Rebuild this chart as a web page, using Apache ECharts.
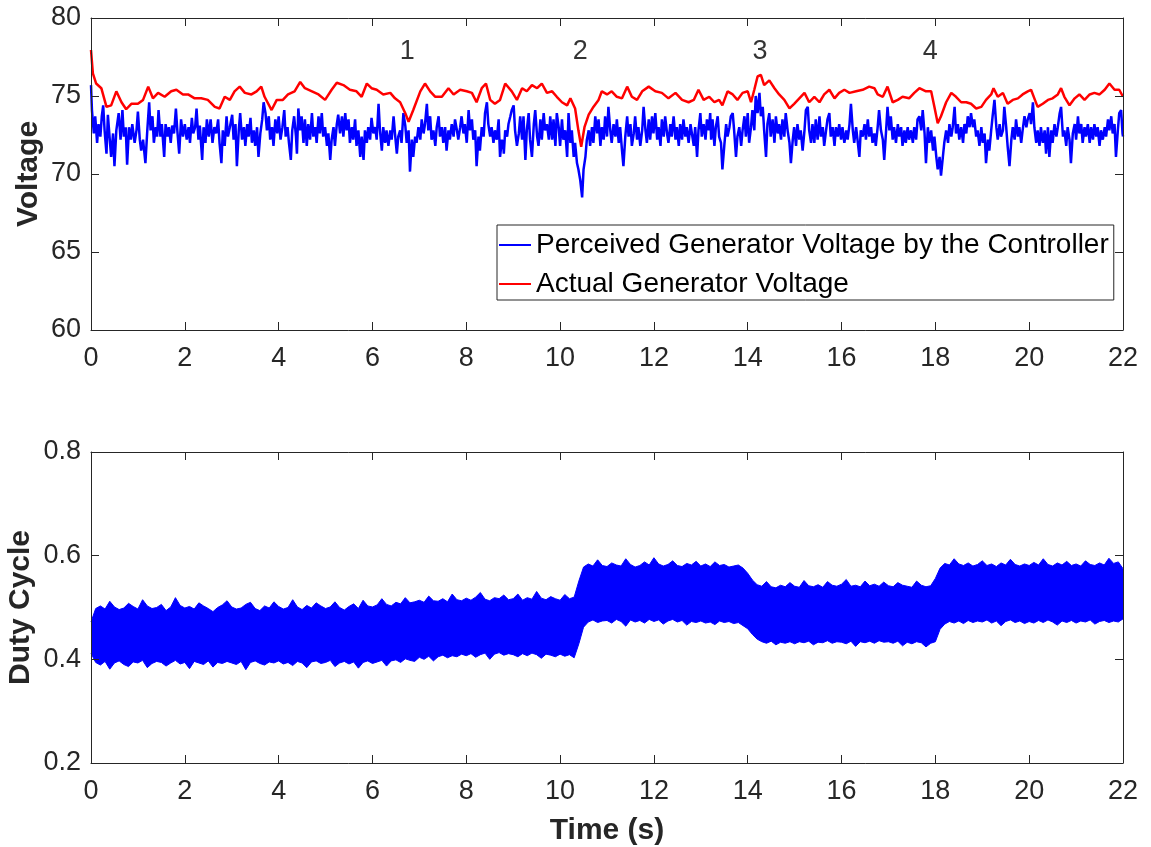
<!DOCTYPE html>
<html><head><meta charset="utf-8">
<script src="https://cdn.jsdelivr.net/npm/echarts@6/dist/echarts.min.js"></script>
<style>html,body{margin:0;padding:0;background:#fff}#c{width:1151px;height:847px}</style>
</head><body><div id="c"></div>
<script>
// ---------- DATA ----------
const perceivedName = 'Perceived Generator Voltage by the Controller';
const actualName = 'Actual Generator Voltage';

// [time (s), voltage]
const perceivedVoltage = [
[0,75.7],[0.02,74.1],[0.06,72.6],[0.09,73.7],[0.13,72.0],[0.16,73.2],[0.2,72.4],[0.23,73.7],[0.26,74.4],[0.29,72.8],[0.33,71.3],[0.36,73.8],[0.4,72.2],[0.43,71.1],[0.47,72.6],[0.5,70.5],[0.54,72.8],[0.59,73.9],[0.63,72.2],[0.67,74.1],[0.7,72.4],[0.74,73.0],[0.77,70.6],[0.81,73.0],[0.85,72.2],[0.88,73.2],[0.93,72.0],[0.97,72.8],[1.0,74.0],[1.04,72.2],[1.07,71.5],[1.11,72.2],[1.16,70.7],[1.2,72.8],[1.24,74.6],[1.27,72.8],[1.31,73.7],[1.34,72.0],[1.38,73.0],[1.41,72.4],[1.44,74.1],[1.48,72.4],[1.51,73.2],[1.56,71.1],[1.59,73.2],[1.63,72.4],[1.66,73.0],[1.7,72.0],[1.73,73.1],[1.77,72.6],[1.81,74.2],[1.84,72.8],[1.88,71.3],[1.92,73.5],[1.96,72.4],[2.0,73.2],[2.04,72.2],[2.08,73.0],[2.11,72.0],[2.15,73.6],[2.18,72.6],[2.22,73.0],[2.25,74.2],[2.29,72.2],[2.32,73.1],[2.37,70.9],[2.4,73.0],[2.44,72.0],[2.47,73.5],[2.51,72.4],[2.55,73.5],[2.59,72.0],[2.63,73.0],[2.67,72.6],[2.71,73.5],[2.74,72.0],[2.78,70.7],[2.81,72.8],[2.85,71.8],[2.89,73.7],[2.92,72.4],[2.96,73.0],[3.01,73.8],[3.04,72.2],[3.08,73.2],[3.11,70.5],[3.15,72.8],[3.18,73.9],[3.22,72.2],[3.26,73.0],[3.29,71.8],[3.33,73.2],[3.36,72.4],[3.4,73.6],[3.43,72.0],[3.47,72.8],[3.5,71.8],[3.54,73.0],[3.57,71.1],[3.61,72.6],[3.65,73.5],[3.68,74.6],[3.72,73.9],[3.75,72.8],[3.79,73.7],[3.82,72.2],[3.86,73.0],[3.89,71.8],[3.93,73.5],[3.97,72.6],[4.0,73.7],[4.04,72.2],[4.08,73.0],[4.12,74.1],[4.15,72.4],[4.19,73.0],[4.22,72.0],[4.26,70.9],[4.29,72.8],[4.33,73.7],[4.37,72.4],
[4.39,71.3],[4.42,74.2],[4.46,72.8],[4.49,73.7],[4.53,72.0],[4.56,73.5],[4.6,71.8],[4.63,73.2],[4.67,72.2],[4.71,73.9],[4.74,72.4],[4.78,73.0],[4.81,72.0],[4.85,73.7],[4.88,72.6],[4.92,73.9],[4.95,72.4],[4.99,73.0],[5.03,71.8],[5.06,72.6],[5.1,70.9],[5.13,72.2],[5.17,73.0],[5.2,71.8],[5.24,73.2],[5.27,73.8],[5.31,72.6],[5.35,73.7],[5.38,72.4],[5.42,73.9],[5.45,72.8],[5.49,73.5],[5.52,72.0],[5.56,73.0],[5.59,72.2],[5.63,73.5],[5.66,71.8],[5.7,72.8],[5.74,71.1],[5.77,72.4],[5.81,70.9],[5.84,72.8],[5.88,72.0],[5.91,73.0],[5.95,72.2],[5.98,73.6],[6.02,72.6],[6.06,73.0],[6.09,72.2],[6.13,74.5],[6.16,72.8],[6.2,71.5],[6.23,73.0],[6.27,72.0],[6.3,72.8],[6.34,71.8],[6.38,72.8],[6.41,72.2],[6.45,73.7],[6.48,72.6],[6.52,71.3],[6.55,72.4],[6.59,72.8],[6.62,72.0],[6.66,73.9],[6.7,73.1],[6.73,72.0],[6.77,72.8],[6.8,70.15],[6.84,72.2],[6.87,71.1],[6.91,72.4],[6.94,72.0],[6.98,73.0],[7.02,72.2],[7.05,73.5],[7.09,72.6],[7.12,73.2],[7.16,74.5],[7.19,72.8],[7.23,73.7],[7.26,72.2],[7.3,72.8],[7.34,71.8],[7.37,73.0],[7.41,73.7],[7.44,72.4],[7.48,73.0],[7.51,72.0],[7.55,73.0],[7.58,71.5],[7.62,72.8],[7.65,72.2],[7.69,73.2],[7.73,72.4],[7.76,73.5],[7.8,72.8],[7.83,72.2],[7.87,73.0],[7.9,73.7],[7.94,72.6],[7.97,73.2],[8.01,72.0],[8.05,74.1],[8.08,72.8],[8.12,73.5],[8.15,72.2],[8.19,72.8],[8.22,70.5],[8.26,72.4],[8.29,71.5],[8.33,73.0],[8.37,72.4],[8.4,73.9],[8.44,74.6],[8.47,73.2],[8.51,72.4],[8.54,73.0],[8.58,72.0],[8.61,72.8],[8.65,72.2],[8.69,73.5],[8.72,71.1],[8.76,72.2],[8.79,71.8],
[8.8,71.3],[8.83,72.8],[8.87,72.4],[8.9,73.2],[8.94,73.7],[8.97,74.1],[9.01,74.4],[9.04,72.8],[9.08,71.8],[9.12,72.6],[9.15,73.7],[9.19,72.2],[9.22,73.7],[9.26,70.9],[9.29,72.8],[9.33,73.9],[9.36,72.2],[9.4,71.1],[9.44,73.2],[9.47,74.1],[9.51,72.4],[9.54,71.8],[9.58,73.5],[9.61,72.2],[9.65,73.9],[9.68,72.8],[9.72,73.2],[9.76,72.2],[9.79,73.7],[9.83,72.2],[9.86,73.5],[9.9,71.8],[9.93,73.9],[9.97,73.0],[10.0,71.8],[10.04,73.5],[10.07,72.2],[10.11,72.8],[10.15,71.1],[10.18,73.9],[10.22,72.0],[10.25,72.8],[10.29,71.1],[10.32,72.0],[10.36,70.7],[10.39,70.3],[10.43,69.6],[10.47,68.5],[10.5,70.3],[10.54,71.1],[10.57,72.2],[10.61,72.8],[10.64,71.8],[10.68,73.0],[10.71,72.0],[10.75,73.7],[10.79,72.6],[10.82,73.5],[10.86,71.8],[10.89,73.0],[10.93,72.2],[10.96,73.7],[11.0,72.4],[11.03,74.3],[11.07,72.8],[11.1,72.0],[11.14,73.2],[11.18,72.4],[11.21,73.5],[11.25,72.0],[11.28,73.0],[11.32,71.5],[11.35,70.5],[11.39,72.4],[11.43,73.7],[11.46,72.4],[11.5,73.2],[11.53,71.8],[11.57,72.6],[11.6,73.7],[11.64,72.2],[11.67,73.0],[11.71,71.8],[11.75,72.8],[11.78,74.3],[11.82,72.8],[11.85,72.0],[11.89,73.5],[11.92,72.2],[11.96,73.7],[11.99,72.6],[12.03,73.9],[12.07,72.2],[12.1,73.0],[12.14,71.8],[12.17,73.5],[12.21,72.4],[12.24,73.7],[12.28,72.6],[12.31,72.0],[12.35,73.2],[12.38,72.4],[12.42,73.7],[12.46,72.2],[12.49,73.0],[12.53,71.8],[12.56,73.2],[12.6,72.2],[12.63,73.5],[12.67,72.4],[12.7,73.0],[12.74,72.0],[12.78,73.2],[12.81,72.6],[12.85,71.8],[12.88,73.0],[12.92,71.1],[12.95,72.8],[12.99,73.9],[13.02,72.4],[13.06,73.2],[13.1,72.2],[13.13,73.5],[13.17,72.8],[13.2,73.9],
[13.22,72.2],[13.25,73.5],[13.29,71.8],[13.32,73.0],[13.36,73.7],[13.39,72.4],[13.43,72.0],[13.46,70.3],[13.5,71.8],[13.54,73.2],[13.57,72.4],[13.61,73.0],[13.64,73.7],[13.68,73.9],[13.71,72.8],[13.75,71.1],[13.78,72.4],[13.82,73.0],[13.86,71.8],[13.89,72.8],[13.93,73.7],[13.96,72.4],[14.0,73.9],[14.03,72.0],[14.07,73.0],[14.1,74.1],[14.14,72.8],[14.17,75.0],[14.21,73.9],[14.25,75.2],[14.28,73.7],[14.32,74.3],[14.35,72.8],[14.39,71.1],[14.42,73.2],[14.46,73.9],[14.49,72.4],[14.53,73.5],[14.57,72.0],[14.6,73.7],[14.64,72.6],[14.67,73.2],[14.71,72.2],[14.74,73.5],[14.78,72.4],[14.81,73.9],[14.85,72.8],[14.89,72.0],[14.92,70.7],[14.96,72.2],[14.99,73.0],[15.03,71.8],[15.06,73.2],[15.1,72.2],[15.13,72.8],[15.17,71.5],[15.21,72.8],[15.24,74.1],[15.28,74.3],[15.31,72.8],[15.35,72.0],[15.38,73.2],[15.42,72.0],[15.45,73.5],[15.49,72.2],[15.53,73.7],[15.56,72.4],[15.6,73.0],[15.63,71.8],[15.67,72.8],[15.7,73.5],[15.74,73.9],[15.77,72.4],[15.81,73.0],[15.85,71.8],[15.88,73.0],[15.92,72.4],[15.95,73.2],[15.99,72.2],[16.02,73.0],[16.06,72.0],[16.1,72.8],[16.13,72.2],[16.17,73.2],[16.2,74.5],[16.24,72.8],[16.27,72.0],[16.31,73.0],[16.34,72.2],[16.38,71.1],[16.41,72.8],[16.45,72.4],[16.49,73.2],[16.52,72.2],[16.56,73.5],[16.59,72.4],[16.63,73.0],[16.66,72.0],[16.7,72.6],[16.73,71.8],[16.77,73.0],[16.8,74.1],[16.84,72.8],[16.88,72.2],[16.91,70.9],[16.95,72.8],[16.98,74.3],[17.02,72.8],[17.05,73.7],[17.09,72.2],[17.12,73.0],[17.16,72.0],[17.2,73.2],[17.23,72.4],[17.27,73.0],[17.3,71.8],[17.34,72.8],[17.37,72.0],[17.41,73.0],[17.44,72.2],[17.48,72.8],[17.52,72.0],[17.55,73.0],[17.59,72.2],[17.62,73.5],
[17.66,73.7],[17.7,72.8],[17.73,74.1],[17.77,72.6],[17.8,70.7],[17.84,73.0],[17.87,72.0],[17.91,72.8],[17.95,71.5],[17.98,72.4],[18.02,71.1],[18.05,70.3],[18.09,71.1],[18.12,69.9],[18.16,71.1],[18.19,72.0],[18.23,72.8],[18.27,72.0],[18.3,73.2],[18.34,72.4],[18.37,73.0],[18.41,74.3],[18.44,72.6],[18.48,73.2],[18.51,72.2],[18.55,73.0],[18.59,72.0],[18.62,73.2],[18.66,72.6],[18.69,73.7],[18.73,73.0],[18.76,73.9],[18.8,73.0],[18.83,73.5],[18.87,72.4],[18.9,72.8],[18.94,71.8],[18.98,73.0],[19.01,72.0],[19.05,72.6],[19.08,70.7],[19.12,72.2],[19.15,71.5],[19.19,72.8],[19.22,73.7],[19.26,74.75],[19.3,73.0],[19.33,72.2],[19.37,73.2],[19.4,72.4],[19.44,72.8],[19.47,74.3],[19.51,73.0],[19.54,71.8],[19.58,70.5],[19.62,72.2],[19.65,73.0],[19.69,72.2],[19.72,73.5],[19.76,72.4],[19.79,73.0],[19.83,72.0],[19.86,72.8],[19.9,73.7],[19.94,73.0],[19.97,73.5],[20.01,73.9],[20.04,73.2],[20.08,74.6],[20.11,73.0],[20.15,72.0],[20.18,72.8],[20.22,71.8],[20.25,73.0],[20.29,72.0],[20.33,72.8],[20.36,71.3],[20.4,73.0],[20.43,71.1],[20.47,72.8],[20.5,72.0],[20.54,73.2],[20.58,72.4],[20.61,73.0],[20.65,73.9],[20.68,74.3],[20.72,72.4],[20.75,72.8],[20.79,71.8],[20.82,73.0],[20.86,72.2],[20.89,70.7],[20.93,72.6],[20.97,73.2],[21.0,72.2],[21.04,73.7],[21.07,72.6],[21.11,73.2],[21.14,72.0],[21.18,73.0],[21.21,72.4],[21.25,73.2],[21.29,72.0],[21.32,73.0],[21.36,72.2],[21.39,73.2],[21.43,72.4],[21.46,73.0],[21.5,71.8],[21.53,72.8],[21.57,72.2],[21.61,73.0],[21.64,72.4],[21.68,73.5],[21.71,72.8],[21.75,73.7],[21.78,72.6],[21.82,73.2],[21.85,71.1],[21.89,72.8],[21.92,73.9],[21.96,74.1],[21.99,72.6],[22.0,72.4]
];

// [time (s), voltage]
const actualVoltage = [
[0,77.95],[0.04,76.45],[0.11,75.8],[0.22,75.5],[0.33,74.3],[0.43,74.4],[0.54,75.3],[0.65,74.6],[0.75,74.15],[0.86,74.5],[1.0,74.5],[1.11,74.75],[1.22,75.6],[1.32,74.85],[1.43,75.2],[1.57,74.95],[1.71,75.3],[1.82,75.4],[1.96,75.1],[2.07,75.1],[2.21,74.85],[2.35,74.85],[2.49,74.75],[2.64,74.3],[2.74,74.2],[2.85,74.95],[2.96,74.75],[3.06,75.3],[3.17,75.6],[3.28,75.2],[3.42,75.1],[3.53,75.3],[3.63,75.6],[3.7,74.95],[3.85,74.1],[3.96,74.75],[4.09,74.75],[4.2,75.1],[4.34,75.3],[4.46,75.9],[4.56,75.5],[4.71,75.3],[4.85,75.1],[4.99,74.75],[5.13,75.4],[5.24,75.85],[5.38,75.7],[5.52,75.4],[5.66,75.3],[5.77,74.95],[5.88,75.8],[5.98,75.5],[6.09,75.4],[6.23,75.1],[6.38,75.2],[6.48,74.85],[6.59,74.6],[6.7,73.9],[6.77,73.35],[6.87,74.1],[7.02,75.3],[7.12,75.8],[7.23,75.3],[7.34,74.95],[7.48,74.95],[7.62,75.5],[7.73,75.1],[7.87,75.4],[8.01,75.3],[8.12,75.2],[8.22,74.6],[8.33,75.5],[8.42,75.8],[8.51,74.75],[8.61,74.5],[8.72,74.75],[8.83,75.8],[8.97,75.3],[9.08,74.75],[9.19,75.5],[9.29,75.3],[9.4,75.7],[9.51,75.5],[9.61,75.8],[9.72,75.2],[9.83,75.3],[9.93,74.95],[10.04,74.6],[10.15,74.4],[10.22,74.85],[10.32,74.2],[10.39,72.8],[10.45,71.75],[10.52,73.0],[10.61,73.8],[10.71,74.3],[10.82,74.75],[10.89,75.3],[11.0,75.1],[11.1,75.3],[11.21,74.95],[11.32,74.85],[11.43,75.6],[11.53,74.95],[11.64,74.75],[11.75,75.3],[11.89,75.6],[12.03,75.3],[12.17,75.2],[12.31,74.85],[12.46,75.2],[12.6,74.75],[12.74,74.6],[12.85,74.75],[12.95,75.4],[13.06,74.75],[13.18,74.95],[13.29,74.6],[13.39,74.75],[13.46,74.4],[13.57,75.3],[13.68,75.1],[13.78,74.75],[13.89,75.2],[14.0,75.3],[14.07,74.6],[14.14,75.4],[14.21,76.25],[14.28,76.35],[14.35,75.7],[14.46,76.0],[14.57,75.5],[14.67,75.1],[14.78,74.75],[14.89,74.2],[14.99,74.5],[15.1,74.85],[15.21,75.2],[15.31,74.6],[15.42,74.95],[15.53,74.6],[15.63,75.1],[15.74,75.4],[15.85,74.85],[15.95,75.2],[16.06,75.4],[16.17,75.2],[16.31,75.3],[16.45,75.4],[16.59,75.6],[16.7,75.5],[16.77,75.1],[16.88,74.95],[16.98,75.6],[17.09,74.6],[17.2,74.75],[17.3,74.95],[17.44,74.85],[17.55,75.2],[17.66,75.5],[17.8,75.3],[17.91,75.3],[17.98,74.3],[18.05,73.25],[18.12,73.7],[18.23,74.6],[18.34,75.2],[18.44,74.95],[18.55,74.6],[18.66,74.6],[18.76,74.5],[18.87,74.2],[18.98,74.3],[19.08,74.75],[19.19,75.1],[19.24,75.5],[19.33,74.95],[19.44,75.2],[19.54,74.5],[19.65,74.75],[19.76,74.85],[19.86,75.1],[19.97,75.3],[20.04,75.4],[20.11,74.85],[20.18,74.3],[20.29,74.5],[20.4,74.75],[20.5,74.85],[20.61,75.1],[20.68,75.5],[20.75,74.95],[20.86,74.4],[20.97,74.85],[21.07,75.1],[21.18,74.75],[21.29,75.1],[21.39,75.2],[21.5,75.1],[21.61,75.4],[21.71,75.8],[21.82,75.4],[21.92,75.4],[22.0,74.95]
];

// event annotations
const eventLabels = ['1', '2', '3', '4'];
const eventTimes = [6.74, 10.43, 14.26, 17.89];
const eventLabelY = 77.85;

// duty cycle: sampled every 0.1 s from 0 to 22 s, upper / lower edge of the oscillation band
const dutyStart = 0, dutyStep = 0.1;
const dutyUpper = [
0.472,0.498,0.503,0.497,0.512,0.501,0.496,0.499,0.508,0.502,
0.497,0.515,0.503,0.498,0.500,0.506,0.494,0.501,0.519,0.504,
0.499,0.502,0.497,0.509,0.503,0.498,0.492,0.500,0.505,0.513,
0.501,0.497,0.499,0.506,0.510,0.498,0.494,0.503,0.499,0.511,
0.502,0.497,0.500,0.515,0.501,0.496,0.504,0.499,0.509,0.503,
0.498,0.501,0.511,0.500,0.495,0.502,0.507,0.498,0.514,0.503,
0.501,0.505,0.517,0.506,0.503,0.510,0.507,0.519,0.509,0.511,
0.514,0.510,0.522,0.513,0.512,0.517,0.511,0.526,0.515,0.513,
0.518,0.514,0.520,0.529,0.516,0.513,0.519,0.517,0.524,0.515,
0.517,0.526,0.514,0.519,0.516,0.531,0.518,0.515,0.521,0.517,
0.514,0.525,0.517,0.520,0.551,0.578,0.584,0.580,0.592,0.581,
0.579,0.586,0.582,0.580,0.594,0.583,0.578,0.581,0.588,0.582,
0.596,0.584,0.580,0.583,0.590,0.581,0.579,0.585,0.582,0.589,
0.580,0.584,0.579,0.588,0.581,0.583,0.578,0.580,0.582,0.576,
0.566,0.553,0.544,0.541,0.550,0.540,0.538,0.543,0.540,0.548,
0.541,0.539,0.552,0.542,0.540,0.544,0.539,0.550,0.543,0.541,
0.545,0.554,0.541,0.543,0.540,0.551,0.542,0.545,0.541,0.549,
0.542,0.540,0.548,0.543,0.541,0.539,0.551,0.543,0.540,0.542,
0.556,0.576,0.585,0.582,0.594,0.584,0.581,0.586,0.580,0.583,
0.590,0.581,0.584,0.579,0.586,0.582,0.593,0.583,0.580,0.584,
0.581,0.587,0.582,0.594,0.583,0.580,0.586,0.582,0.589,0.581,
0.584,0.580,0.590,0.583,0.581,0.586,0.582,0.595,0.585,0.588,
0.575
];
const dutyLower = [
0.412,0.394,0.389,0.396,0.381,0.393,0.397,0.390,0.386,0.395,
0.393,0.398,0.384,0.392,0.396,0.394,0.387,0.393,0.398,0.391,
0.394,0.382,0.396,0.393,0.390,0.397,0.385,0.394,0.392,0.396,
0.393,0.390,0.396,0.380,0.394,0.397,0.392,0.389,0.395,0.393,
0.397,0.391,0.394,0.388,0.396,0.393,0.384,0.395,0.397,0.392,
0.394,0.398,0.386,0.393,0.396,0.391,0.395,0.383,0.394,0.397,
0.392,0.395,0.398,0.387,0.397,0.399,0.394,0.401,0.398,0.396,
0.404,0.400,0.406,0.397,0.405,0.408,0.403,0.407,0.405,0.410,
0.407,0.411,0.404,0.409,0.412,0.400,0.410,0.413,0.408,0.411,
0.409,0.405,0.411,0.407,0.412,0.409,0.402,0.410,0.408,0.405,
0.410,0.406,0.409,0.403,0.430,0.462,0.472,0.476,0.471,0.474,
0.475,0.470,0.477,0.473,0.464,0.476,0.472,0.475,0.470,0.477,
0.473,0.476,0.468,0.474,0.477,0.472,0.475,0.466,0.473,0.471,
0.474,0.470,0.472,0.467,0.474,0.471,0.473,0.469,0.471,0.465,
0.459,0.448,0.439,0.434,0.431,0.435,0.428,0.433,0.431,0.434,
0.430,0.434,0.432,0.435,0.428,0.433,0.432,0.436,0.431,0.434,
0.433,0.430,0.435,0.425,0.434,0.432,0.435,0.431,0.436,0.433,
0.434,0.431,0.435,0.426,0.433,0.430,0.434,0.432,0.424,0.431,
0.434,0.458,0.468,0.473,0.470,0.474,0.469,0.475,0.471,0.474,
0.472,0.476,0.470,0.474,0.465,0.473,0.476,0.471,0.474,0.469,
0.473,0.470,0.475,0.471,0.476,0.472,0.466,0.474,0.471,0.475,
0.470,0.474,0.472,0.476,0.468,0.473,0.475,0.471,0.474,0.472,
0.478
];

// ---------- CHART ----------
const FONT = '"Liberation Sans", Arial, Helvetica, sans-serif';
const AX = '#262626';
const BLUE = '#0000FF', RED = '#FF0000';

const dutyTime = i => +(dutyStart + i * dutyStep).toFixed(2);
const dutyUpperPts = dutyUpper.map((v, i) => [dutyTime(i), v]);
const dutyLowerPts = dutyLower.map((v, i) => [dutyTime(i), v]);
const eventPts = eventTimes.map((t, i) => ({ value: [t, eventLabelY], name: eventLabels[i] }));

function xAxis(grid, pos, labels, name) {
  return {
    type: 'value', gridIndex: grid, position: pos, min: 0, max: 22, interval: 2, z: 10,
    name: name || '', nameLocation: 'middle', nameGap: 53, nameMoveOverlap: false,
    nameTextStyle: { fontFamily: FONT, fontSize: 30, fontWeight: 'bold', color: AX },
    axisLine: { show: true, onZero: false, lineStyle: { color: AX, width: 1 } },
    axisTick: { show: true, inside: true, length: 8, lineStyle: { color: AX } },
    axisLabel: { show: labels, color: AX, fontFamily: FONT, fontSize: 27, margin: 15 },
    splitLine: { show: false }
  };
}
function yAxis(grid, pos, labels, min, max, interval, name, gap, dec) {
  return {
    type: 'value', gridIndex: grid, position: pos, min: min, max: max, interval: interval, z: 10,
    name: name || '', nameLocation: 'middle', nameGap: gap || 0, nameMoveOverlap: false,
    nameTextStyle: { fontFamily: FONT, fontSize: 30, fontWeight: 'bold', color: AX },
    axisLine: { show: true, onZero: false, lineStyle: { color: AX, width: 1 } },
    axisTick: { show: true, inside: true, length: 8, lineStyle: { color: AX } },
    axisLabel: { show: labels, color: AX, fontFamily: FONT, fontSize: 27, margin: 10,
      formatter: v => dec ? v.toFixed(dec) : String(v) },
    splitLine: { show: false }
  };
}

const chart = echarts.init(document.getElementById('c'), null, { renderer: 'canvas' });
chart.setOption({
  animation: false,
  backgroundColor: '#fff',
  grid: [
    { left: 91, top: 18, width: 1032, height: 312, outerBoundsMode: 'none', containLabel: false },
    { left: 91, top: 452, width: 1032, height: 311, outerBoundsMode: 'none', containLabel: false }
  ],
  xAxis: [
    xAxis(0, 'bottom', true),
    xAxis(0, 'top', false),
    xAxis(1, 'bottom', true, 'Time (s)'),
    xAxis(1, 'top', false)
  ],
  yAxis: [
    yAxis(0, 'left', true, 60, 80, 5, 'Voltage', 47, 0),
    yAxis(0, 'right', false, 60, 80, 5),
    yAxis(1, 'left', true, 0.2, 0.8, 0.2, 'Duty Cycle', 55, 1),
    yAxis(1, 'right', false, 0.2, 0.8, 0.2)
  ],
  legend: {
    left: 497, top: 225, orient: 'vertical',
    data: [perceivedName, actualName],
    icon: 'rect', itemWidth: 32, itemHeight: 2, itemGap: 9,
    padding: [5, 5, 1, 2],
    borderColor: AX, borderWidth: 1, backgroundColor: '#fff',
    textStyle: { fontFamily: FONT, fontSize: 28, color: '#000', lineHeight: 30 }
  },
  series: [
    { name: perceivedName, type: 'line', xAxisIndex: 0, yAxisIndex: 0, data: perceivedVoltage,
      showSymbol: false, color: BLUE, lineStyle: { color: BLUE, width: 2.5 }, z: 2 },
    { name: actualName, type: 'line', xAxisIndex: 0, yAxisIndex: 0, data: actualVoltage,
      showSymbol: false, color: RED, lineStyle: { color: RED, width: 2.5 }, z: 3 },
    { name: 'events', type: 'scatter', xAxisIndex: 0, yAxisIndex: 0, data: eventPts,
      symbolSize: 0, silent: true,
      label: { show: true, position: 'inside', formatter: p => p.name,
        fontFamily: FONT, fontSize: 27, color: '#000' } },
    { name: 'dutyUpper', type: 'line', xAxisIndex: 2, yAxisIndex: 2, data: dutyUpperPts,
      showSymbol: false, lineStyle: { color: BLUE, width: 1 }, color: BLUE, z: 2,
      areaStyle: { color: BLUE, opacity: 1, origin: 'start' } },
    { name: 'dutyLower', type: 'line', xAxisIndex: 2, yAxisIndex: 2, data: dutyLowerPts,
      showSymbol: false, lineStyle: { color: BLUE, width: 1 }, color: BLUE, z: 3,
      areaStyle: { color: '#FFFFFF', opacity: 1, origin: 'start' } }
  ]
});
</script>
</body></html>
